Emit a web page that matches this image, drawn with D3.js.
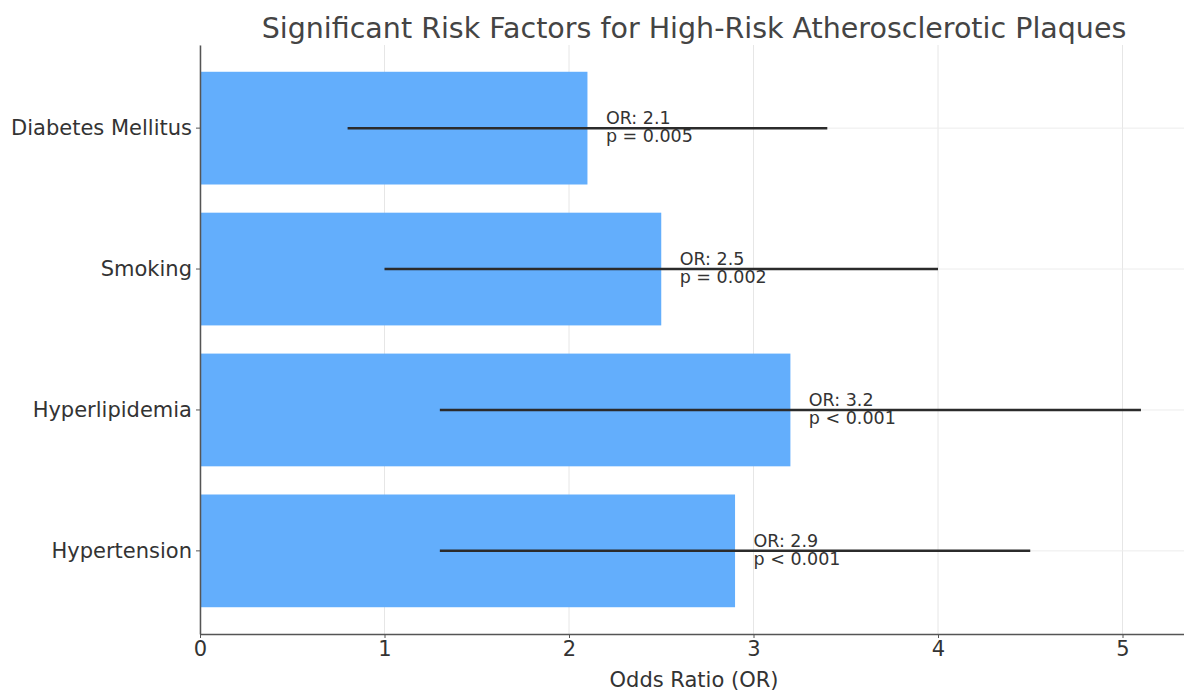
<!DOCTYPE html>
<html>
<head>
<meta charset="utf-8">
<script src="https://cdn.jsdelivr.net/npm/d3@7"></script>
<style>
  body { margin: 0; background: #fff; }
  text { font-family: "DejaVu Sans", sans-serif; }
</style>
</head>
<body>
<div id="chart"></div>
<script>
const width = 1184;
const height = 691;

// data, bottom to top as in the picture
const factors = ["Hypertension", "Hyperlipidemia", "Smoking", "Diabetes Mellitus"];
const oddsRatios = [2.9, 3.2, 2.5, 2.1];
const ciLow = [1.3, 1.3, 1.0, 0.8];
const ciHigh = [4.5, 5.1, 4.0, 3.4];
const pLabels = ["p < 0.001", "p < 0.001", "p = 0.002", "p = 0.005"];
const xTicks = [0, 1, 2, 3, 4, 5];

const rows = factors.map((f, i) => ({
  name: f, or: oddsRatios[i], lo: ciLow[i], hi: ciHigh[i], p: pLabels[i]
}));

const plot = { left: 200, right: 1188, top: 45, bottom: 634 };

const svg = d3.select("#chart")
  .append("svg")
  .attr("width", width)
  .attr("height", height);

const x = d3.scaleLinear()
  .domain([0, 5.355])
  .range([plot.left, plot.right]);

// top category first in the band so Diabetes sits on top
const y = d3.scaleBand()
  .domain(factors.slice().reverse())
  .range([plot.top, plot.bottom])
  .paddingInner(0.2)
  .paddingOuter(0.19);

const mid = d => y(d) + y.bandwidth() / 2;

// grid
svg.append("g")
  .selectAll("line")
  .data(xTicks)
  .enter()
  .append("line")
  .attr("x1", d => x(d))
  .attr("x2", d => x(d))
  .attr("y1", plot.top)
  .attr("y2", plot.bottom)
  .attr("stroke", "#e6e6e6")
  .attr("stroke-width", 1);

svg.append("g")
  .selectAll("line")
  .data(factors)
  .enter()
  .append("line")
  .attr("x1", plot.left)
  .attr("x2", plot.right)
  .attr("y1", d => mid(d))
  .attr("y2", d => mid(d))
  .attr("stroke", "#ececec")
  .attr("stroke-width", 1);

// bars
svg.append("g")
  .selectAll("rect")
  .data(rows)
  .enter()
  .append("rect")
  .attr("x", x(0))
  .attr("y", d => y(d.name))
  .attr("width", d => x(d.or) - x(0))
  .attr("height", y.bandwidth())
  .attr("fill", "#63aefc");

// annotations
const notes = svg.append("g")
  .selectAll("g")
  .data(rows)
  .enter()
  .append("g")
  .attr("font-size", "17.5px")
  .attr("fill", "#333");

notes.append("text")
  .attr("x", d => x(d.or + 0.1))
  .attr("y", d => mid(d.name) - 4)
  .text(d => `OR: ${d.or.toFixed(1)}`);

notes.append("text")
  .attr("x", d => x(d.or + 0.1))
  .attr("y", d => mid(d.name) + 14)
  .text(d => d.p);

// error bars
svg.append("g")
  .selectAll("line")
  .data(rows)
  .enter()
  .append("line")
  .attr("x1", d => x(d.lo))
  .attr("x2", d => x(d.hi))
  .attr("y1", d => mid(d.name))
  .attr("y2", d => mid(d.name))
  .attr("stroke", "#2b2b2b")
  .attr("stroke-width", 2.5);

// axes
const xAxis = svg.append("g")
  .attr("transform", `translate(0,${plot.bottom})`)
  .call(d3.axisBottom(x).tickValues(xTicks).tickFormat(d3.format("d")).tickSize(4).tickSizeOuter(0));

const yAxis = svg.append("g")
  .attr("transform", `translate(${plot.left},0)`)
  .call(d3.axisLeft(y).tickSize(4).tickSizeOuter(0));

[xAxis, yAxis].forEach(a => {
  a.select(".domain").attr("stroke", "#555").attr("stroke-width", 1.5);
  a.selectAll(".tick line").attr("stroke", "#555");
  a.selectAll(".tick text").attr("fill", "#333").attr("font-size", "21px")
    .attr("font-family", "DejaVu Sans, sans-serif");
});
xAxis.selectAll(".tick text").attr("y", 7).attr("dy", "0.71em");
yAxis.selectAll(".tick text").attr("x", -8);

// titles
svg.append("text")
  .attr("x", (plot.left + plot.right) / 2)
  .attr("y", 687)
  .attr("text-anchor", "middle")
  .attr("font-size", "21px")
  .attr("fill", "#333")
  .text("Odds Ratio (OR)");

svg.append("text")
  .attr("x", (plot.left + plot.right) / 2)
  .attr("y", 38)
  .attr("text-anchor", "middle")
  .attr("font-size", "28.5px")
  .attr("fill", "#444")
  .text("Significant Risk Factors for High-Risk Atherosclerotic Plaques");
</script>
</body>
</html>
